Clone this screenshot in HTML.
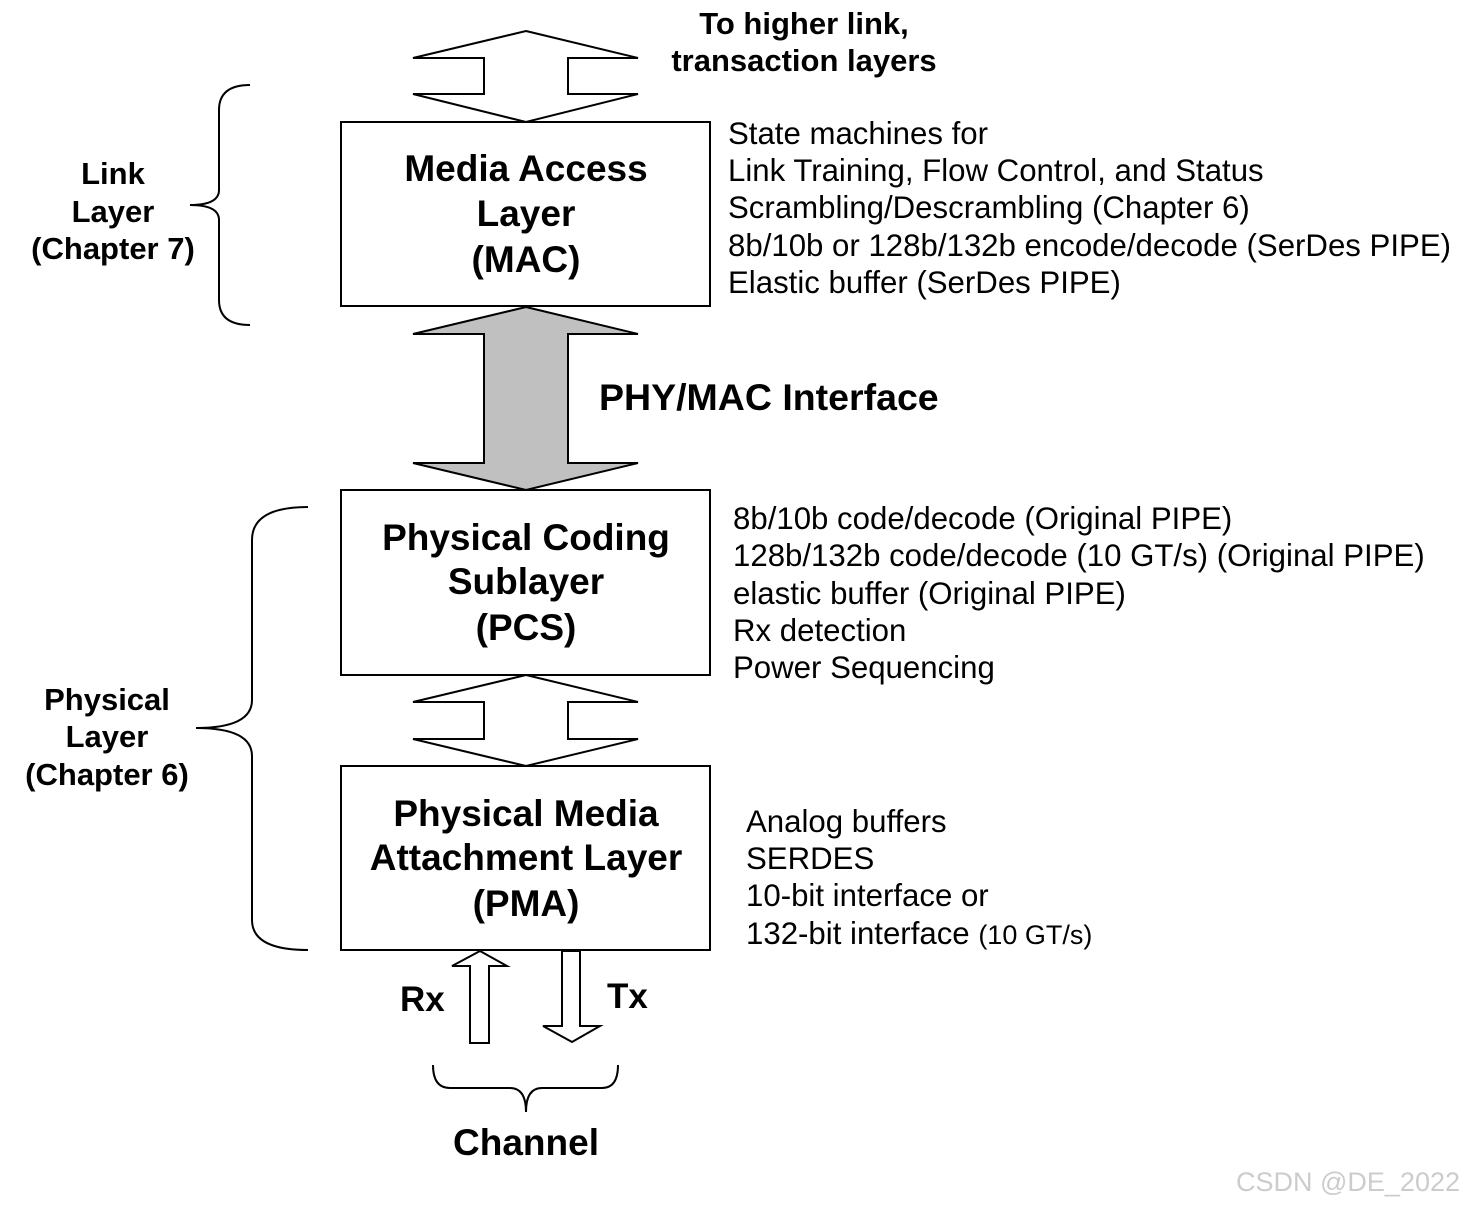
<!DOCTYPE html>
<html><head><style>
body{margin:0;background:#fff;}
svg text{font-family:"Liberation Sans",Arial,sans-serif;fill:#000;}
.b{font-weight:bold;}
</style></head><body>
<svg width="1464" height="1207" viewBox="0 0 1464 1207" xmlns="http://www.w3.org/2000/svg">
<g stroke="#000" stroke-width="2" fill="#fff">
<polygon points="526,31 638,58 568,58 568,94 638,94 526,122 413,94 484,94 484,58 413,58"/>
<rect x="341" y="122" width="369" height="184"/>
<polygon fill="#c0c0c0" points="526,307 638,334 568,334 568,463 638,463 526,490 413,463 484,463 484,334 413,334"/>
<rect x="341" y="490" width="369" height="185"/>
<polygon points="526,675 638,702 568,702 568,739 638,739 526,766 413,739 484,739 484,702 413,702"/>
<rect x="341" y="766" width="369" height="184"/>
<polygon points="480,951 507,966 489,966 489,1043 470,1043 470,966 452,966"/>
<polygon points="562,951 580,951 580,1026 600,1026 572,1042 543,1026 562,1026"/>
</g>
<g stroke="#000" stroke-width="2" fill="none">
<path d="M250,85 Q219,85 219,110 L219,190 Q219,205 190,205 Q219,205 219,220 L219,300 Q219,325 250,325"/>
<path d="M308,507 Q252,507 252,540 L252,700 Q252,728 196,728 Q252,728 252,756 L252,920 Q252,950 308,950"/>
<path d="M433,1065 Q433,1088 450,1088 L510,1088 Q526,1088 526,1112 Q526,1088 542,1088 L602,1088 Q618,1088 618,1065"/>
</g>
<g class="b" font-size="37" text-anchor="middle">
<text x="526" y="181" class="b">Media Access</text>
<text x="526" y="226" class="b">Layer</text>
<text x="526" y="272" class="b">(MAC)</text>
<text x="526" y="550" class="b">Physical Coding</text>
<text x="526" y="594" class="b">Sublayer</text>
<text x="526" y="640" class="b">(PCS)</text>
<text x="526" y="826" class="b">Physical Media</text>
<text x="526" y="870" class="b">Attachment Layer</text>
<text x="526" y="916" class="b">(PMA)</text>
</g>
<g class="b" font-size="31" text-anchor="middle">
<text x="804" y="34" class="b">To higher link,</text>
<text x="804" y="71" class="b">transaction layers</text>
<text x="113" y="184" class="b">Link</text>
<text x="113" y="222" class="b">Layer</text>
<text x="113" y="259" class="b">(Chapter 7)</text>
<text x="107" y="710" class="b">Physical</text>
<text x="107" y="747" class="b">Layer</text>
<text x="107" y="785" class="b">(Chapter 6)</text>
</g>
<text x="599" y="410" font-size="37.5" class="b">PHY/MAC Interface</text>
<text x="400" y="1011" font-size="35" class="b">Rx</text>
<text x="607" y="1008" font-size="35" class="b">Tx</text>
<text x="526" y="1155" font-size="37" class="b" text-anchor="middle">Channel</text>
<g font-size="31.2">
<text x="728" y="144">State machines for</text>
<text x="728" y="181">Link Training, Flow Control, and Status</text>
<text x="728" y="218">Scrambling/Descrambling (Chapter 6)</text>
<text x="728" y="256">8b/10b or 128b/132b encode/decode (SerDes PIPE)</text>
<text x="728" y="293">Elastic buffer (SerDes PIPE)</text>
<text x="733" y="529">8b/10b code/decode (Original PIPE)</text>
<text x="733" y="566">128b/132b code/decode (10 GT/s) (Original PIPE)</text>
<text x="733" y="604">elastic buffer (Original PIPE)</text>
<text x="733" y="641">Rx detection</text>
<text x="733" y="678">Power Sequencing</text>
<text x="746" y="832">Analog buffers</text>
<text x="746" y="869">SERDES</text>
<text x="746" y="906">10-bit interface or</text>
<text x="746" y="944">132-bit interface <tspan font-size="27">(10 GT/s)</tspan></text>
</g>
<text x="1460" y="1191" font-size="27" style="fill:#cccccc" text-anchor="end">CSDN @DE_2022</text>
</svg>
</body></html>
